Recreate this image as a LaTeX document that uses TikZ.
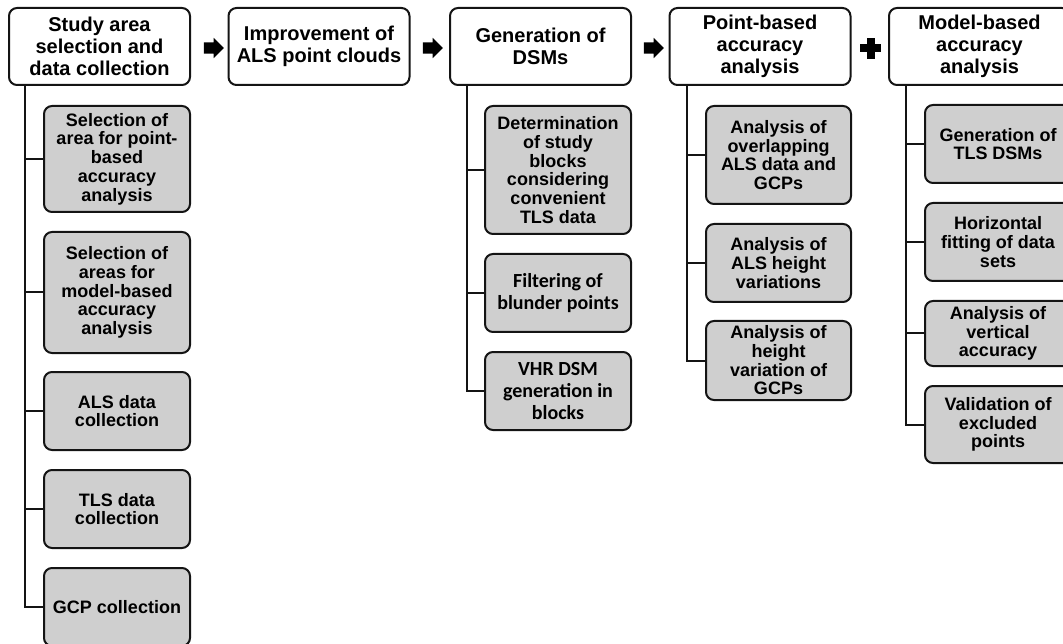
\documentclass[tikz,border=0pt]{standalone}
\usepackage{fontspec}
\setmainfont{Liberation Sans}
\newfontfamily\calibrifont{Carlito}
\usetikzlibrary{shapes.arrows}
\tikzset{>=latex}
\definecolor{boxgray}{gray}{0.81}
\definecolor{inkblack}{gray}{0.08}
\tikzstyle{stage}=[draw=inkblack,line width=2pt,rounded corners=8pt,fill=white,align=center,inner sep=2pt,minimum width=181pt,minimum height=77pt,font=\bfseries\fontsize{20pt}{21.7pt}\selectfont]
\tikzstyle{task}=[draw=inkblack,line width=2pt,rounded corners=8pt,fill=boxgray,align=center,inner sep=2pt,minimum width=146pt,font=\bfseries\fontsize{18pt}{18.7pt}\selectfont]
\tikzstyle{calibritask}=[task,font=\calibrifont\bfseries\fontsize{20pt}{22.3pt}\selectfont]
\tikzstyle{link}=[draw=inkblack,line width=2pt]
\tikzstyle{flow}=[single arrow,fill=black,inner sep=5.5pt,minimum height=20pt,single arrow head extend=4.5pt]

\begin{document}
\begin{tikzpicture}[x=1pt,y=-1pt]
\useasboundingbox (0,0) rectangle (1063,644);
% main stages
\node (study) at (99.5,46.5) [stage]{Study area\\selection and\\data collection};
\node (improve) at (319,46.5) [stage]{Improvement of\\ALS point clouds};
\node (gendsm) at (540.5,46.5) [stage]{Generation of\\DSMs};
\node (pointacc) at (760,46.5) [stage]{Point-based\\accuracy\\analysis};
\node (modelacc) at (979.5,46.5) [stage]{Model-based\\accuracy\\analysis};
\node (arr1) at (211,48) [flow]{};
\node (arr2) at (430,48) [flow]{};
\node (arr3) at (651,48) [flow]{};
\fill[black] (866.5,38) rectangle (874.5,59);
\fill[black] (860,44.5) rectangle (881,52.5);
% study area tasks
\node (selpoint) at (117,159) [task,minimum height=106pt]{Selection of\\area for point-\\based\\accuracy\\analysis};
\node (selmodel) at (117,292.5) [task,minimum height=121pt]{Selection of\\areas for\\model-based\\accuracy\\analysis};
\node (alscol) at (117,411) [task,minimum height=78pt]{ALS data\\collection};
\node (tlscol) at (117,509) [task,minimum height=78pt]{TLS data\\collection};
\node (gcpcol) at (117,607) [task,minimum height=78pt]{GCP collection};
% DSM tasks
\node (blocks) at (558,170) [task,minimum height=128pt]{Determination\\of study\\blocks\\considering\\convenient\\TLS data};
\node (filter) at (558,293) [calibritask,minimum height=78pt]{Filtering of\\blunder points};
\node (vhr) at (558,391) [calibritask,minimum height=78pt]{VHR DSM\\generation in\\blocks};
% point-based tasks
\node (overlap) at (778.5,155) [task,minimum width=145pt,minimum height=98pt]{Analysis of\\overlapping\\ALS data and\\GCPs};
\node (alsvar) at (778.5,263) [task,minimum width=145pt,minimum height=78pt]{Analysis of\\ALS height\\variations};
\node (gcpvar) at (778.5,360.5) [task,minimum width=145pt,minimum height=79pt]{Analysis of\\height\\variation of\\GCPs};
% model-based tasks
\node (tlsdsm) at (998,144) [task,minimum height=78pt]{Generation of\\TLS DSMs};
\node (hfit) at (998,242) [task,minimum height=78pt]{Horizontal\\fitting of data\\sets};
\node (vacc) at (998,333.5) [task,minimum height=65pt]{Analysis of\\vertical\\accuracy};
\node (excl) at (998,424.5) [task,minimum height=77pt]{Validation of\\excluded\\points};
% tree lines
\foreach \t in {selpoint,selmodel,alscol,tlscol,gcpcol}
	\draw [link] ([xshift=17pt]study.south west) |- (\t.west);
\foreach \t in {blocks,filter,vhr}
	\draw [link] ([xshift=18pt]gendsm.south west) |- (\t.west);
\foreach \t in {overlap,alsvar,gcpvar}
	\draw [link] ([xshift=18pt]pointacc.south west) |- (\t.west);
\foreach \t in {tlsdsm,hfit,vacc,excl}
	\draw [link] ([xshift=18pt]modelacc.south west) |- (\t.west);
\end{tikzpicture}
\end{document}
